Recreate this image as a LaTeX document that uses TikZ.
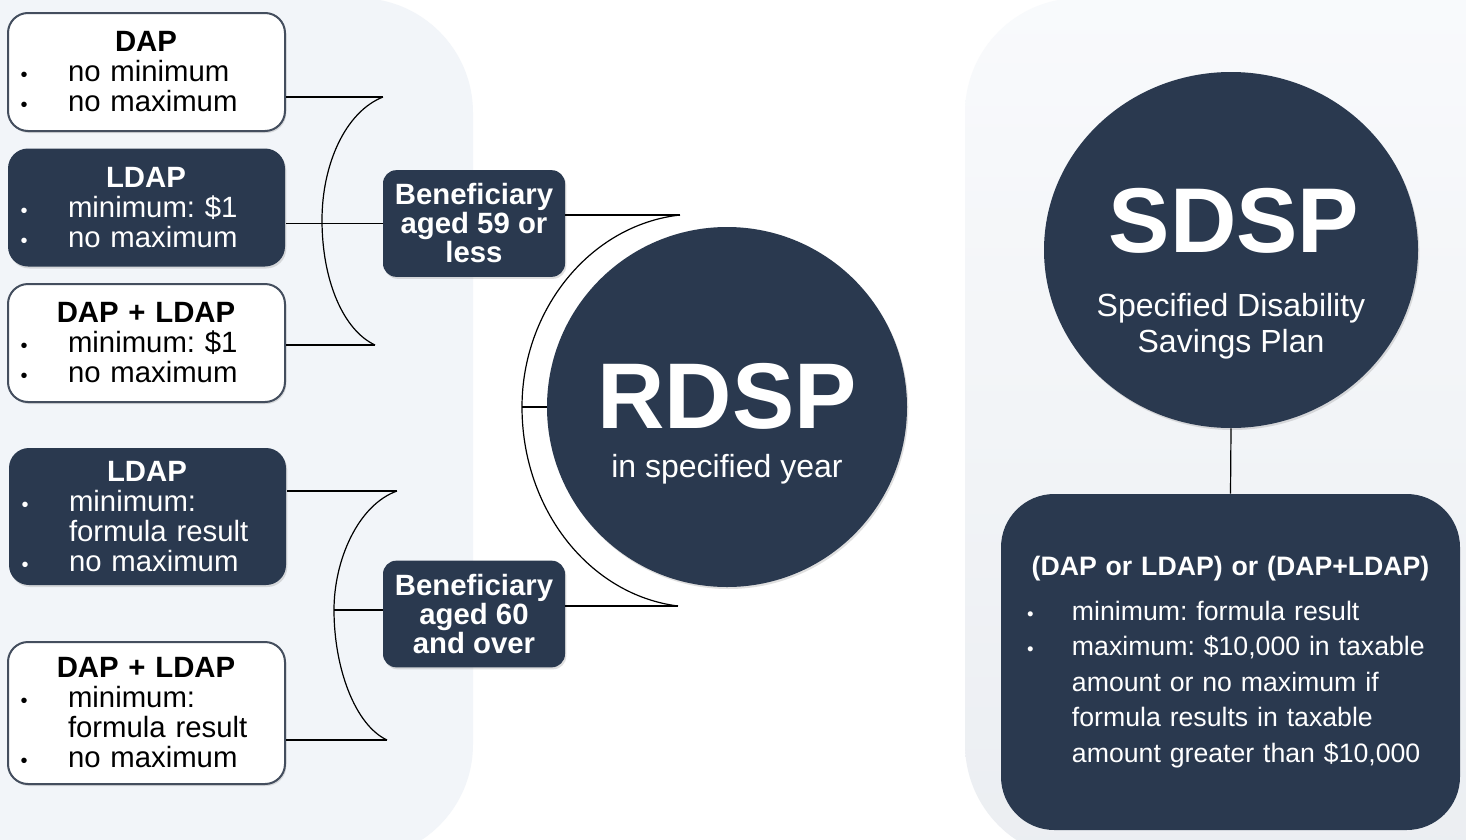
\documentclass[tikz,border=0pt]{standalone}
\usepackage{fontspec}
\setmainfont{Liberation Sans}
\usetikzlibrary{shapes.geometric,shadows}
\frenchspacing

\definecolor{navy}{RGB}{42,57,79}
\definecolor{panel}{RGB}{242,245,249}
\definecolor{edge}{RGB}{68,78,94}

\newcommand{\ttl}[1]{\makebox[207pt][c]{\bfseries #1}}
\newcommand{\bul}[1]{\hspace*{9.5pt}\makebox[35.5pt][l]{\fontsize{15}{15}\selectfont\textbullet}#1}
\newcommand{\cnt}[1]{\hspace*{45pt}#1}
\newcommand{\rbul}[1]{\hspace*{5pt}\makebox[33.6pt][l]{\fontsize{14}{14}\selectfont\textbullet}#1}
\newcommand{\rcnt}[1]{\hspace*{38.6pt}#1}

\tikzset{
    whitebox/.style={draw=edge, line width=1.5pt, fill=white, rounded corners=15pt,
        minimum width=207.75pt, minimum height=88.5pt, text width=207.75pt,
        inner xsep=0pt, align=left, font=\fontsize{22}{22.5}\selectfont,
        drop shadow={opacity=0.25, shadow xshift=1pt, shadow yshift=-1.5pt}},
    darkbox/.style={whitebox, draw=none, fill=navy, text=white},
    benebox/.style={fill=navy, text=white, rounded corners=10pt,
        minimum width=136.5pt, minimum height=80pt, align=center, inner sep=0pt,
        font=\fontsize{22}{21.75}\selectfont\bfseries,
        drop shadow={opacity=0.25, shadow xshift=1pt, shadow yshift=-1.5pt}},
    plan/.style={fill=navy, inner sep=0pt,
        drop shadow={opacity=0.25, shadow xshift=1pt, shadow yshift=-1.5pt}},
    rulebox/.style={fill=navy, text=white, rounded corners=40pt,
        minimum width=344.25pt, minimum height=252pt, text width=315pt,
        inner xsep=0pt, align=left, font=\fontsize{20}{26.6}\selectfont},
    link/.style={line width=0.9pt},
}

\begin{document}
\begin{tikzpicture}[x=0.75pt, y=-0.75pt]

    \useasboundingbox (0,0) rectangle (1466,839);
    \fill[white] (0,0) rectangle (1466,839);

    \fill[panel, rounded corners=86pt] (-100,-2) rectangle (473,859);
    \shade[top color=panel!50!white, bottom color=panel!80!gray!30!panel, rounded corners=86pt] (965,-2) rectangle (1600,859);

    \node[whitebox] (dap1) at (146.5,72) {\ttl{DAP}\\\bul{no minimum}\\\bul{no maximum}};
    \node[darkbox] (ldap1) at (146.5,207.5) {\ttl{LDAP}\\\bul{minimum: \$1}\\\bul{no maximum}};
    \node[whitebox] (both1) at (146.5,343) {\ttl{DAP + LDAP}\\\bul{minimum: \$1}\\\bul{no maximum}};

    \node[darkbox, minimum height=102.75pt] (ldap2) at (147.5,516.5) {\ttl{LDAP}\\\bul{minimum:}\\\cnt{formula result}\\\bul{no maximum}};
    \node[whitebox, minimum height=106.5pt] (both2) at (146.5,713) {\ttl{DAP + LDAP}\\\bul{minimum:}\\\cnt{formula result}\\\bul{no maximum}};

    \node[benebox] (young) at (474,223.5) {Beneficiary\\aged 59 or\\less};
    \node[benebox] (old) at (474,614) {Beneficiary\\aged 60\\and over};

    \node[plan, circle, minimum size=270pt] (rdsp) at (727,407) {};
    \node[text=white, anchor=base, font=\fontsize{70}{70}\selectfont\bfseries] (rdspname) at (727,428) {RDSP};
    \node[text=white, anchor=base, font=\fontsize{24}{27}\selectfont] (rdspyear) at (727,477) {in specified year};

    \node[plan, ellipse, minimum width=280.5pt, minimum height=267pt] (sdsp) at (1231,250) {};
    \node[text=white, anchor=base, font=\fontsize{69}{69}\selectfont\bfseries] (sdspname) at (1234,252) {SDSP};
    \node[text=white, align=center, font=\fontsize{24}{27}\selectfont] (sdspfull) at (1231,326) {Specified Disability\\Savings Plan};

    \node[rulebox] (rules) at (1230.5,662) {\makebox[315pt][c]{\bfseries (DAP or LDAP) or (DAP+LDAP)}\\[7pt]
        \rbul{minimum: formula result}\\\rbul{maximum: \$10,000 in taxable}\\\rcnt{amount or no maximum if}\\
        \rcnt{formula results in taxable}\\\rcnt{amount greater than \$10,000}};

    \coordinate (a1) at (383,97);
    \coordinate (a2) at (322,220);
    \coordinate (a3) at (375,345);

    \draw[link] (a1 -| dap1.east) -- (a1);
    \draw[link] (young.west -| ldap1.east) -- (young.west);
    \draw[link] (a3 -| both1.east) -- (a3);
    \draw[link] (a1) .. controls (345,112) and (322,165) .. (a2) .. controls (322,280) and (343,330) .. (a3);

    \coordinate (b1) at (680,215);
    \coordinate (b2) at (522,407);
    \coordinate (b3) at (678,606);

    \draw[link] (b1 -| young.east) -- (b1);
    \draw[link] (b3 -| old.east) -- (b3);
    \draw[link] (b2) -- (rdsp.west);
    \draw[link] (b1) .. controls (590,225) and (522,310) .. (b2) .. controls (522,510) and (590,595) .. (b3);

    \coordinate (c1) at (397,491);
    \coordinate (c2) at (334,610);
    \coordinate (c3) at (387,740);

    \draw[link] (c1 -| ldap2.east) -- (c1);
    \draw[link] (c2) -- (c2 -| old.west);
    \draw[link] (c3 -| both2.east) -- (c3);
    \draw[link] (c1) .. controls (358,505) and (334,560) .. (c2) .. controls (334,668) and (355,725) .. (c3);

    \draw[link] (sdsp.south) -- (rules.north);

\end{tikzpicture}
\end{document}
